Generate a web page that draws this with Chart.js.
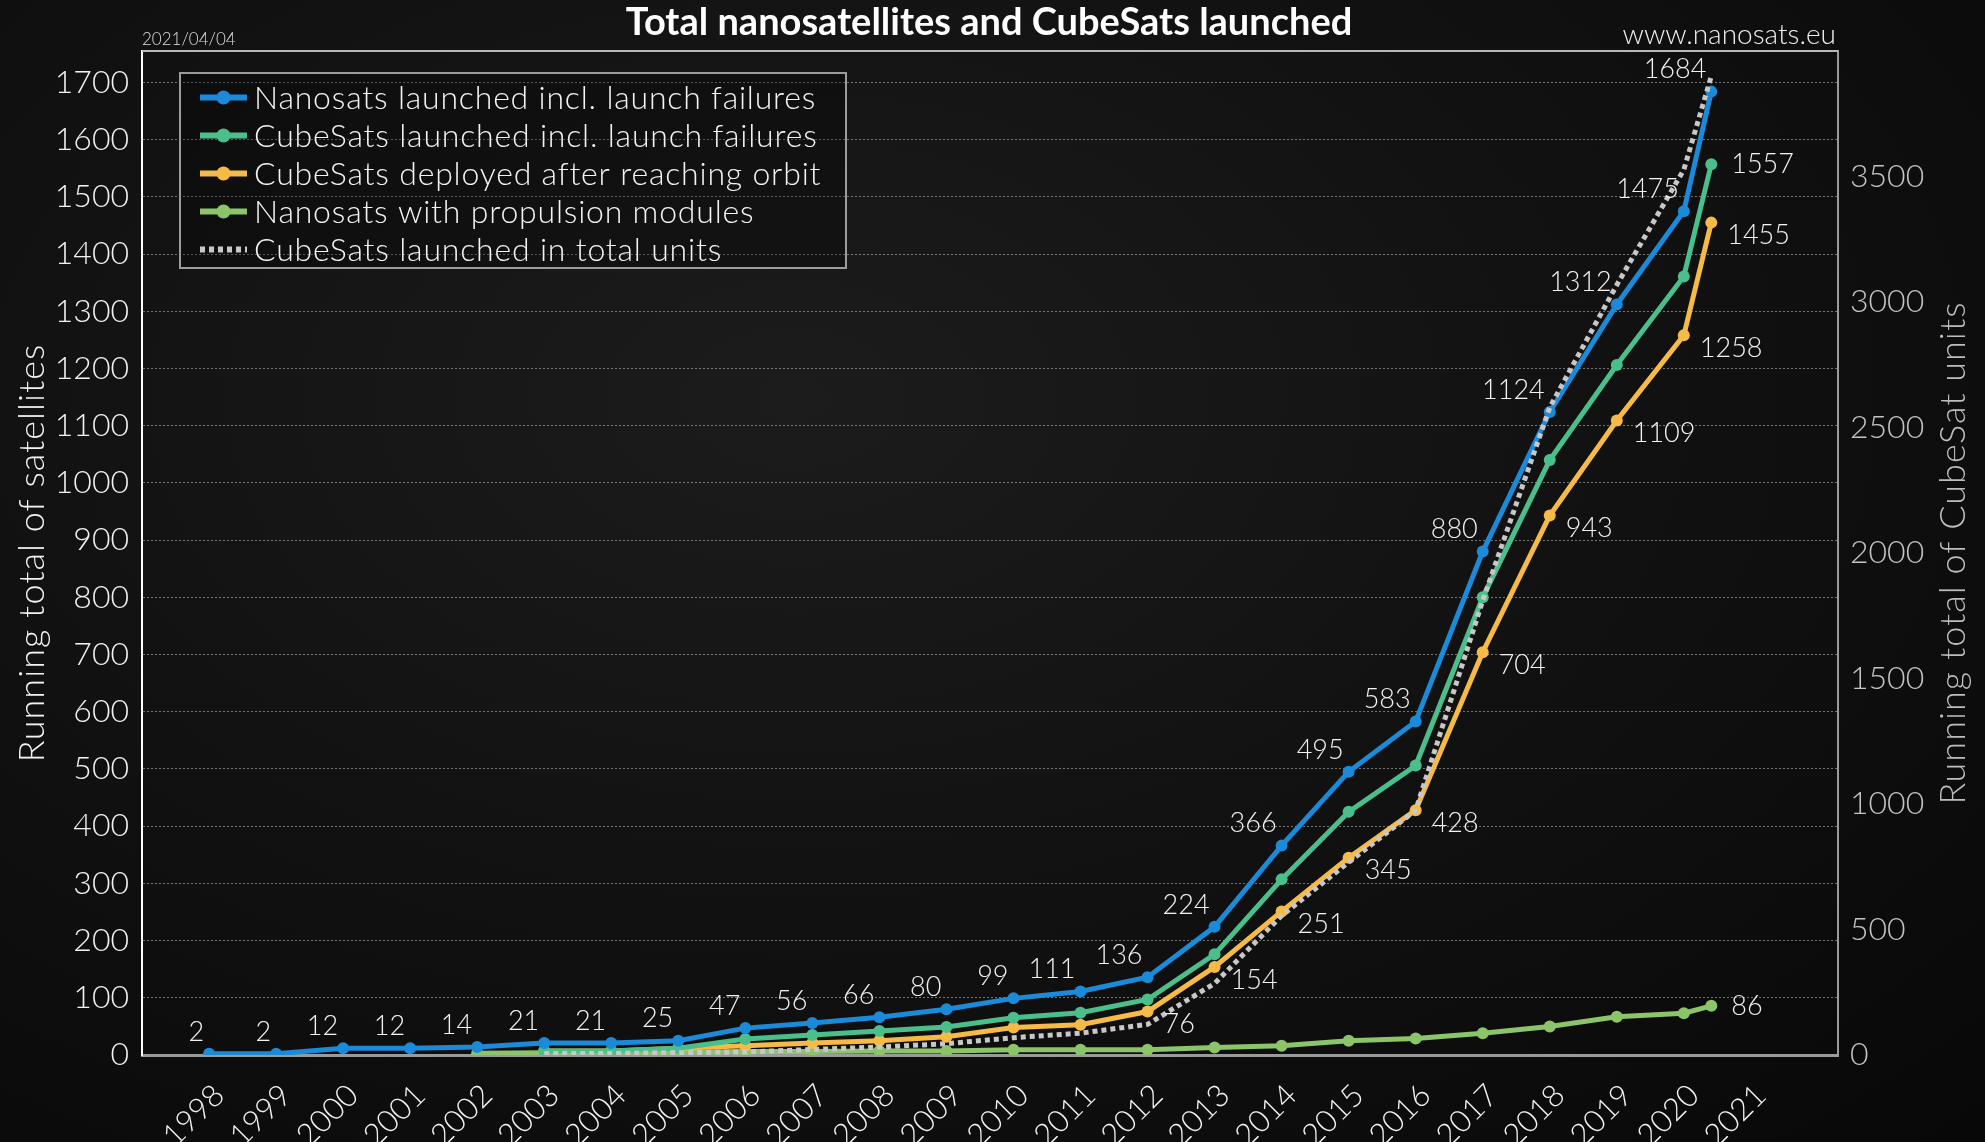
<!DOCTYPE html>
<html>
<head>
<title>Total nanosatellites and CubeSats launched</title>
<script src="https://cdn.jsdelivr.net/npm/chart.js@4.4.1/dist/chart.umd.min.js"></script>
<style>
html, body { margin: 0; padding: 0; background: #0b0b0b; }
body { width: 1985px; height: 1142px; overflow: hidden;
  background: radial-gradient(ellipse at 40% 35%, #1c1c1c 0%, #121212 45%, #080808 100%); }
canvas { display: block; }
</style>
</head>
<body>
<canvas id="stage" width="1985" height="1142"></canvas>
<script>
// tick labels
var years = [1998, 1999, 2000, 2001, 2002, 2003, 2004, 2005, 2006, 2007, 2008, 2009,
             2010, 2011, 2012, 2013, 2014, 2015, 2016, 2017, 2018, 2019, 2020, 2021];
var leftTicks = [0, 100, 200, 300, 400, 500, 600, 700, 800, 900, 1000, 1100, 1200, 1300, 1400, 1500, 1600, 1700];
var rightTicks = [0, 500, 1000, 1500, 2000, 2500, 3000, 3500];

// where each running total sits on the year axis (last one is 2021/04/04)
var pointX = [1998, 1999, 2000, 2001, 2002, 2003, 2004, 2005, 2006, 2007, 2008, 2009,
              2010, 2011, 2012, 2013, 2014, 2015, 2016, 2017, 2018, 2019, 2020, 2020.41];

// series (running totals)
var nanosats   = [2, 2, 12, 12, 14, 21, 21, 25, 47, 56, 66, 80, 99, 111, 136, 224, 366, 495, 583, 880, 1124, 1312, 1475, 1684];
var cubesats   = [null, null, null, null, null, 7, 7, 12, 28, 35, 42, 49, 65, 74, 97, 176, 307, 425, 506, 800, 1040, 1206, 1361, 1557];
var deployed   = [null, null, null, null, null, 7, 7, 12, 16, 21, 25, 32, 48, 53, 76, 154, 251, 345, 428, 704, 943, 1109, 1258, 1455];
var propulsion = [null, null, null, null, 3, 4, 4, 5, 6, 6, 7, 7, 9, 9, 9, 13, 16, 25, 29, 38, 50, 67, 73, 86];
var units      = [null, null, null, null, null, 6, 6, 9, 12, 22, 32, 45, 69, 87, 122, 285, 555, 768, 975, 1810, 2580, 3068, 3527, 3900];

var FONT = 'Lato, "Open Sans", sans-serif';

function pts(vals) {
    var out = [];
    for (var i = 0; i < vals.length; i++) out.push({x: pointX[i], y: vals[i]});
    return out;
}

// value labels next to the points
var valueLabels = {
    id: 'valueLabels',
    afterDatasetsDraw: function (chart) {
        var ctx = chart.ctx;
        ctx.save();
        ctx.font = '300 27px ' + FONT;
        ctx.fillStyle = '#f2f2f2';
        ctx.textBaseline = 'middle';
        chart.data.datasets.forEach(function (ds, di) {
            if (!ds.labelMode) return;
            var meta = chart.getDatasetMeta(di);
            meta.data.forEach(function (p, i) {
                var v = ds.data[i].y;
                if (v === null || i < ds.labelFrom) return;
                if (ds.labelMode === 'above') {
                    ctx.textAlign = 'right';
                    ctx.fillText(v, p.x - 5, p.y - 22);
                } else if (ds.labelMode === 'below') {
                    ctx.textAlign = 'left';
                    ctx.fillText(v, p.x + 16, p.y + 13);
                } else {
                    ctx.textAlign = 'left';
                    ctx.fillText(v, p.x + 20, p.y);
                }
            });
        });
        ctx.restore();
    }
};

// title, notes, axis titles, frame and legend box
var decor = {
    id: 'decor',
    afterDraw: function (chart) {
        var ctx = chart.ctx, a = chart.chartArea;
        ctx.save();
        ctx.strokeStyle = '#b8b8b8';
        ctx.lineWidth = 2;
        ctx.beginPath();
        ctx.moveTo(a.left, a.top);
        ctx.lineTo(a.right, a.top);
        ctx.stroke();

        ctx.fillStyle = '#ffffff';
        ctx.textBaseline = 'middle';
        ctx.textAlign = 'center';
        ctx.font = 'bold 38px ' + FONT;
        ctx.fillText('Total nanosatellites and CubeSats launched', 989, 23);

        ctx.font = '300 17px ' + FONT;
        ctx.textAlign = 'left';
        ctx.fillStyle = '#dddddd';
        ctx.fillText('2021/04/04', a.left, 40);

        ctx.font = '300 28px ' + FONT;
        ctx.textAlign = 'right';
        ctx.fillStyle = '#eeeeee';
        ctx.fillText('www.nanosats.eu', a.right - 2, 35);

        var midY = (a.top + a.bottom) / 2;
        ctx.font = '300 36px ' + FONT;
        ctx.letterSpacing = '1px';
        ctx.textAlign = 'center';
        ctx.save();
        ctx.translate(32, midY);
        ctx.rotate(-Math.PI / 2);
        ctx.fillStyle = '#f2f2f2';
        ctx.fillText('Running total of satellites', 0, 0);
        ctx.restore();
        ctx.save();
        ctx.translate(1953, midY);
        ctx.rotate(-Math.PI / 2);
        ctx.fillStyle = '#bdbdbd';
        ctx.fillText('Running total of CubeSat units', 0, 0);
        ctx.restore();

        // legend
        var bx = 180, by = 73, bw = 666, bh = 195;
        ctx.fillStyle = 'rgba(0,0,0,0.25)';
        ctx.fillRect(bx, by, bw, bh);
        ctx.strokeStyle = '#9c9c9c';
        ctx.lineWidth = 2;
        ctx.strokeRect(bx, by, bw, bh);
        ctx.font = '300 32px ' + FONT;
        ctx.letterSpacing = '0.8px';
        ctx.textAlign = 'left';
        chart.data.datasets.forEach(function (ds, i) {
            var y = by + 24.5 + i * 38;
            ctx.save();
            ctx.strokeStyle = ds.borderColor;
            ctx.lineWidth = ds.borderWidth + 1;
            if (ds.borderDash) ctx.setLineDash(ds.borderDash);
            ctx.beginPath();
            ctx.moveTo(200, y);
            ctx.lineTo(247, y);
            ctx.stroke();
            if (ds.pointRadius) {
                ctx.fillStyle = ds.borderColor;
                ctx.beginPath();
                ctx.arc(223.5, y, 7, 0, Math.PI * 2);
                ctx.fill();
            }
            ctx.restore();
            ctx.fillStyle = '#f4f4f4';
            ctx.fillText(ds.label, 254, y + 1);
        });
        ctx.restore();
    }
};

function line(label, vals, color, axis, extra) {
    var ds = {
        label: label,
        data: pts(vals),
        yAxisID: axis,
        borderColor: color,
        backgroundColor: color,
        borderWidth: 5,
        pointRadius: 6,
        pointHoverRadius: 6,
        pointBorderWidth: 0,
        tension: 0,
        fill: false
    };
    for (var k in extra) ds[k] = extra[k];
    return ds;
}

var mydata = {
    datasets: [
        line('Nanosats launched incl. launch failures', nanosats, '#1a8ad9', 'y', {order: 1, labelMode: 'above', labelFrom: 0}),
        line('CubeSats launched incl. launch failures', cubesats, '#4abf8c', 'y', {order: 2, labelMode: 'right', labelFrom: 23}),
        line('CubeSats deployed after reaching orbit', deployed, '#f6ba47', 'y', {order: 3, labelMode: 'below', labelFrom: 14}),
        line('Nanosats with propulsion modules', propulsion, '#8cc46a', 'y', {order: 4, labelMode: 'right', labelFrom: 23}),
        line('CubeSats launched in total units', units, '#c8c8c8', 'y1', {order: 0, pointRadius: 0, pointHoverRadius: 0, borderDash: [5, 4], borderCapStyle: 'butt'})
    ]
};

function plain(v) { return String(v); }

var options = {
    responsive: false,
    animation: false,
    devicePixelRatio: 1,
    layout: {padding: {top: 51, left: 0, right: 0, bottom: 0}},
    plugins: {legend: {display: false}, tooltip: {enabled: false}},
    scales: {
        x: {
            type: 'linear',
            min: 1997,
            max: 2022.3,
            afterBuildTicks: function (axis) { axis.ticks = years.map(function (v) { return {value: v}; }); },
            afterFit: function (axis) { axis.height = 87; },
            grid: {display: false, drawTicks: false},
            border: {display: true, color: '#9a9a9a', width: 3},
            ticks: {
                autoSkip: false, maxRotation: 45, minRotation: 45, labelOffset: 10, padding: 22,
                color: '#f2f2f2', font: {family: FONT, size: 31, weight: '300'},
                callback: plain
            }
        },
        y: {
            position: 'left',
            min: 0,
            max: 1755,
            afterBuildTicks: function (axis) { axis.ticks = leftTicks.map(function (v) { return {value: v}; }); },
            afterFit: function (axis) { axis.width = 142; },
            grid: {color: 'rgba(185,185,185,0.6)', lineWidth: 1, drawTicks: false},
            border: {display: true, color: '#ffffff', width: 2, dash: [2, 2]},
            ticks: {padding: 13, color: '#f2f2f2', font: {family: FONT, size: 32, weight: '300'}, callback: plain}
        },
        y1: {
            position: 'right',
            min: 0,
            max: 4000,
            afterBuildTicks: function (axis) { axis.ticks = rightTicks.map(function (v) { return {value: v}; }); },
            afterFit: function (axis) { axis.width = 147; },
            grid: {display: false, drawTicks: false},
            border: {display: true, color: '#9a9a9a', width: 2},
            ticks: {padding: 12, color: '#c4c4c4', font: {family: FONT, size: 32, weight: '300'}, callback: plain}
        }
    }
};

var canvas = document.getElementById('stage');
var chart = new Chart(canvas, {
    type: 'line',
    data: mydata,
    options: options,
    plugins: [valueLabels, decor]
});
</script>
</body>
</html>
